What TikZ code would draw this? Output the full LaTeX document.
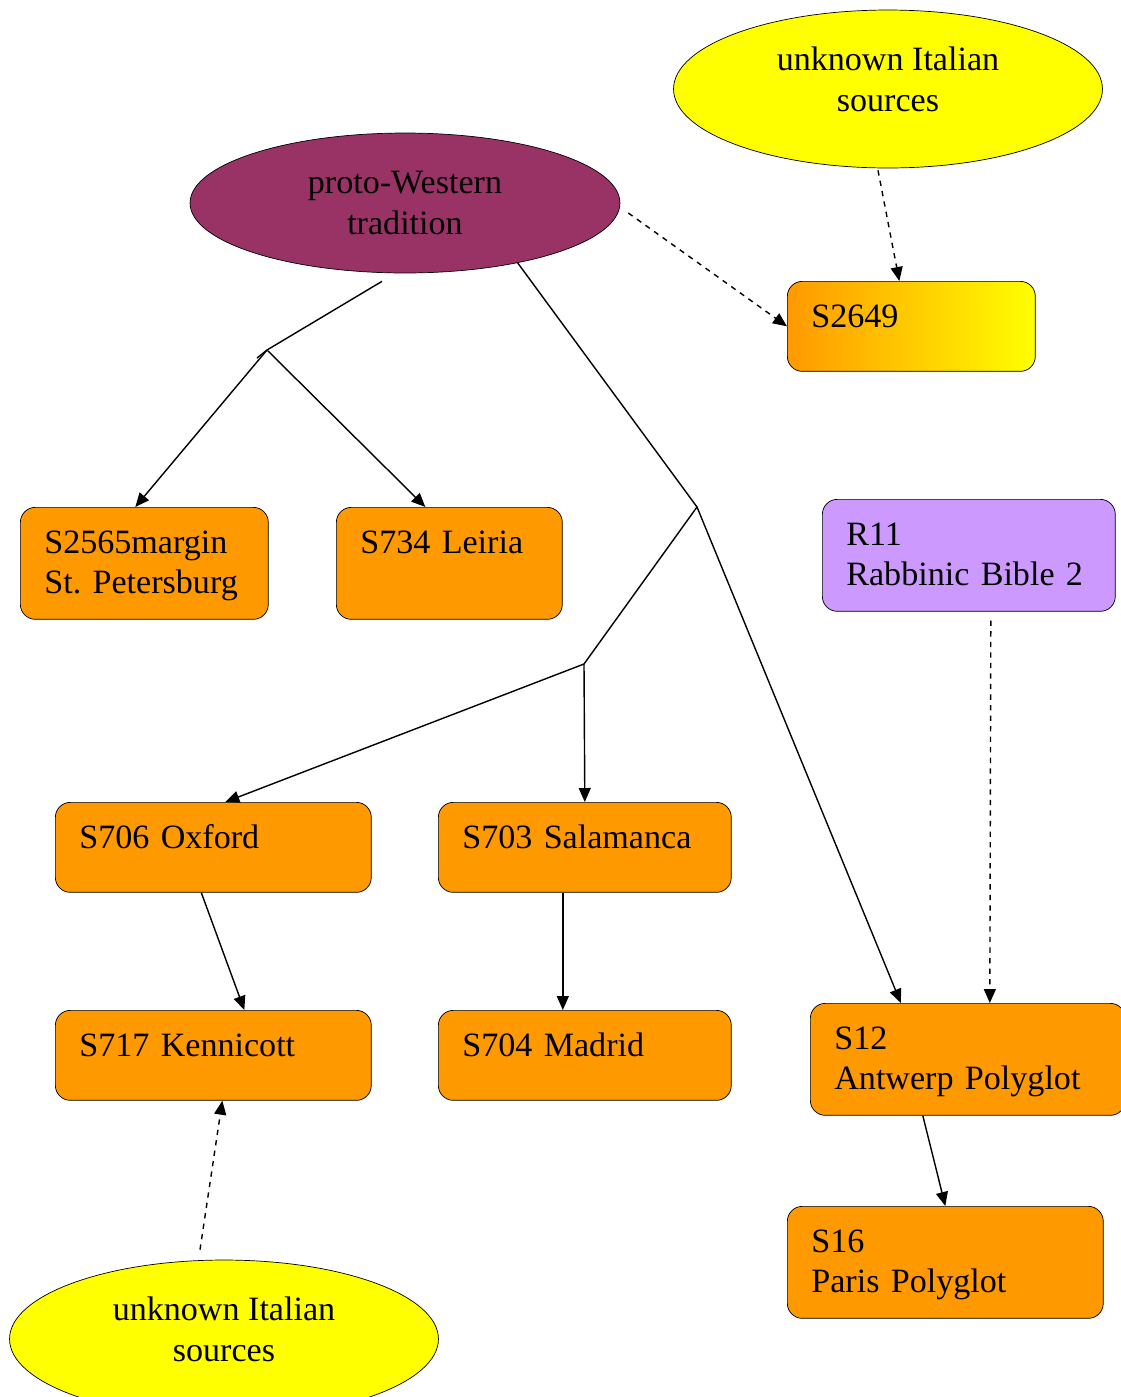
\documentclass[tikz,border=0pt]{standalone}
\usepackage{fontspec}
\setmainfont{Liberation Serif}
\usetikzlibrary{shapes, arrows.meta, positioning}
\definecolor{boxorange}{HTML}{FF9900}
\definecolor{srcyellow}{HTML}{FFFF00}
\definecolor{protored}{HTML}{993366}
\definecolor{rabbinic}{HTML}{CC99FF}

\begin{document}
\begin{tikzpicture}[x=0.02cm, y=-0.02cm, font=\fontsize{19.4}{22.8}\selectfont]
    \tikzstyle{source} = [ellipse, draw, fill=srcyellow, minimum width=8.58cm, minimum height=3.16cm, inner sep=0pt, align=center, text height=1.27cm, text depth=0.39cm]
    \tikzstyle{tradition} = [ellipse, draw, fill=protored, minimum width=8.6cm, minimum height=2.8cm, inner sep=0pt, align=center]
    \tikzstyle{witness} = [rectangle, draw, rounded corners=0.3cm, fill=boxorange, anchor=north west, align=left, inner xsep=0.48cm, inner ysep=0pt, text height=0.92cm, text depth=0.88cm]
    \tikzstyle{twoline} = [text depth=1.32cm]
    \tikzstyle{branch} = [line width=0.8pt]
    \tikzstyle{arrow} = [line width=0.8pt, -{Triangle[length=0.28cm, width=0.24cm]}]
    \tikzstyle{dasharrow} = [arrow, dash pattern=on 3pt off 3pt]

    \useasboundingbox (0,0) rectangle (1121,1397);

    \node (proto) [tradition] at (405,203) {proto-Western\\tradition};
    \node (italian1) [source] at (888,89) {unknown Italian\\sources};
    \node (italian2) [source] at (224,1339) {unknown Italian\\sources};

    \node (s2649) [witness, left color=boxorange, right color=srcyellow, text width=4cm] at (787,281) {S2649};
    \node (s2565) [witness, twoline, text width=4cm] at (20,507) {S2565margin\\St.\ Petersburg};
    \node (s734) [witness, twoline, text width=3.56cm] at (336,507) {S734 Leiria};
    \node (r11) [witness, twoline, fill=rabbinic, text width=4.9cm] at (822,499) {R11\\Rabbinic Bible 2};
    \node (s706) [witness, text width=5.36cm] at (55,802) {S706 Oxford};
    \node (s703) [witness, text width=4.9cm] at (438,802) {S703 Salamanca};
    \node (s717) [witness, text width=5.36cm] at (55,1010) {S717 Kennicott};
    \node (s704) [witness, text width=4.9cm] at (438,1010) {S704 Madrid};
    \node (s12) [witness, twoline, text width=5.34cm] at (810,1003) {S12\\Antwerp Polyglot};
    \node (s16) [witness, twoline, text width=5.36cm] at (787,1206) {S16\\Paris Polyglot};

    \coordinate (fork1) at (267,350);
    \coordinate (fork2) at (697,507);
    \coordinate (fork3) at (584,664);

    % Arrows
    \draw [branch] ([shift={(-23,8)}]proto.south) -- (fork1) -- ++(-10,8);
    \draw [arrow] (fork1) -- ([shift={(-9,0)}]s2565.north);
    \draw [arrow] (fork1) -- ([shift={(-24,0)}]s734.north);
    \draw [branch] (proto.-28) -- (fork2) -- (fork3);
    \draw [arrow] (fork2) -- ([shift={(-67,0)}]s12.north);
    \draw [arrow] (fork3) -- ([shift={(12,0)}]s706.north);
    \draw [arrow] (fork3) -- (s703.north);
    \draw [arrow] ([shift={(-12,0)}]s706.south) -- ([shift={(31,0)}]s717.north);
    \draw [arrow] ([shift={(-22,0)}]s703.south) -- ([shift={(-22,0)}]s704.north);
    \draw [arrow] ([shift={(-45,0)}]s12.south) -- (s16.north);
    \draw [dasharrow] ([shift={(8,10)}]proto.east) -- (s2649.west);
    \draw [dasharrow] ([shift={(-10,2)}]italian1.south) -- ([shift={(-12,0)}]s2649.north);
    \draw [dasharrow] ([shift={(22,9)}]r11.south) -- ([shift={(22,0)}]s12.north);
    \draw [dasharrow] ([shift={(-24,-10)}]italian2.north) -- ([shift={(9,0)}]s717.south);
\end{tikzpicture}
\end{document}
